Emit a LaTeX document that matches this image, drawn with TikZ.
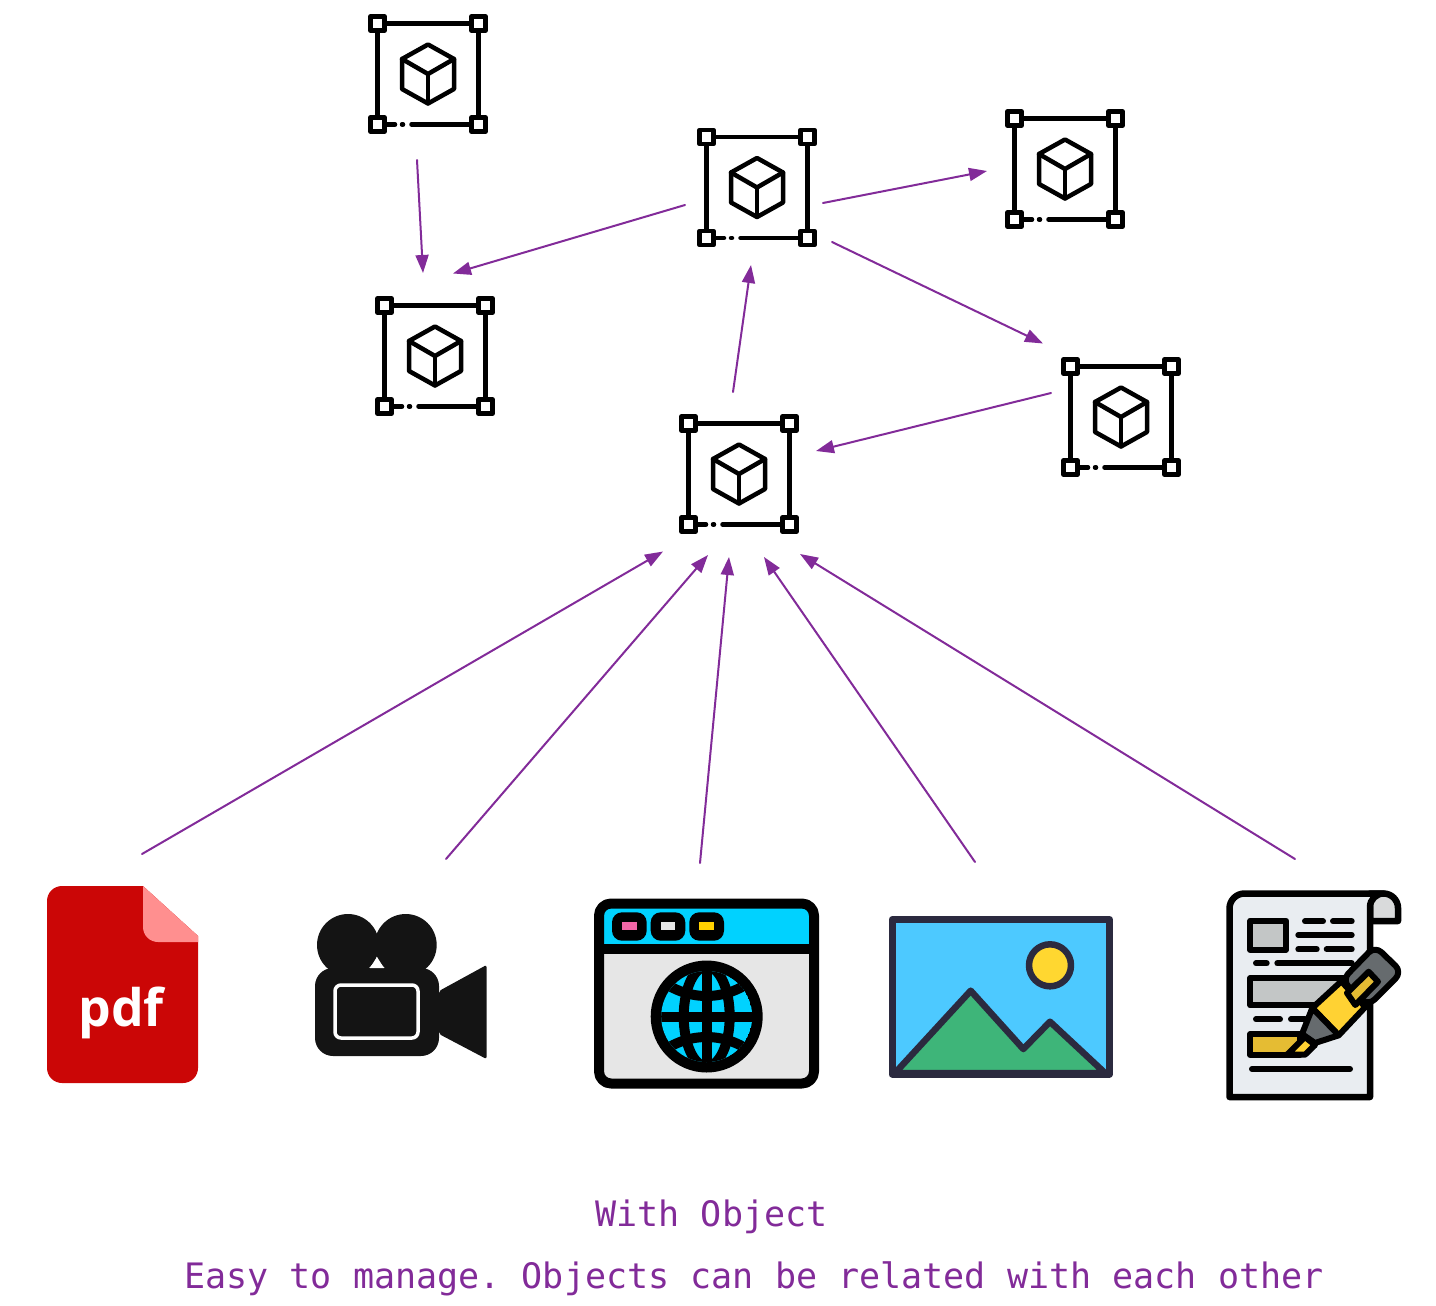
\documentclass[tikz,border=0pt]{standalone}
\usepackage{xcolor}
\usepackage{fontspec}
\setmainfont{Open Sans}
\setmonofont{DejaVu Sans Mono}
\usetikzlibrary{arrows.meta}

\definecolor{linkpurple}{HTML}{822B99}
\definecolor{pdfred}{HTML}{CB0606}
\definecolor{pdfpink}{HTML}{FF8F8F}
\definecolor{camblack}{HTML}{141414}
\definecolor{webcyan}{HTML}{00D2FF}
\definecolor{webgrey}{HTML}{E6E6E6}
\definecolor{webpink}{HTML}{F266A6}
\definecolor{webyellow}{HTML}{FFD000}
\definecolor{picsky}{HTML}{4DC9FF}
\definecolor{picink}{HTML}{2B2A3F}
\definecolor{picsun}{HTML}{FFD730}
\definecolor{picgreen}{HTML}{3EB579}
\definecolor{docpaper}{HTML}{E9EDF1}
\definecolor{docgrey}{HTML}{C3C6C6}
\definecolor{docfold}{HTML}{D9DADB}
\definecolor{docgold}{HTML}{E5BC33}
\definecolor{penyellow}{HTML}{FFD233}
\definecolor{pengrey}{HTML}{666B6E}

\tikzset{
  objicon/.pic={
    %% Frame with its square handles; the bottom edge is broken.
    \draw[line width=0.045cm] (-43,-50.5) -- (43,-50.5);
    \draw[line width=0.045cm] (-50.5,-43) -- (-50.5,43);
    \draw[line width=0.045cm] (50.5,-43) -- (50.5,43);
    \draw[line width=0.045cm] (-43,50.5) -- (-33,50.5);
    \draw[line width=0.045cm] (-26,50.5) -- (-25,50.5);
    \draw[line width=0.045cm] (-16.5,50.5) -- (43,50.5);
    \foreach \p in {(-50.5,-50.5),(50.5,-50.5),(-50.5,50.5),(50.5,50.5)}
      \draw[line width=0.045cm] \p ++(-7,-7) rectangle ++(14,14);
    %% Cube.
    \draw[line width=0.045cm]
         (0,-29.5) -- (26,-15) -- (26,15) -- (0,29.5)
      -- (-26,15) -- (-26,-15) -- cycle;
    \draw[line width=0.045cm] (-26,-15) -- (0,0) -- (26,-15);
    \draw[line width=0.045cm] (0,0) -- (0,29.5);
  },
}

\begin{document}
\begin{tikzpicture}[
      x=0.01cm,
      y=-0.01cm,
      line cap=round,
      line join=round,
      link/.style={linkpurple, line width=0.02cm,
        -{Triangle[length=0.18cm,width=0.13cm]}},
      caption/.style={linkpurple, font=\ttfamily\fontsize{9.965pt}{12pt}\selectfont,
        anchor=base, inner sep=0pt},
      docline/.style={line width=0.06cm},
    ]
    \useasboundingbox (0,0) rectangle (1436,1306);

    %% Objects.
    \pic at (428,74)      {objicon};
    \pic at (757,187.5)   {objicon};
    \pic at (1065,169)    {objicon};
    \pic at (435,356)     {objicon};
    \pic at (739,474)     {objicon};
    \pic at (1121,417)    {objicon};

    %% Free ends of the links between the objects.
    \coordinate (topout)    at (417,160);
    \coordinate (leftin)    at (423,273);
    \coordinate (midoutl)   at (685,205);
    \coordinate (leftinr)   at (453,273.5);
    \coordinate (midoutr)   at (823,203);
    \coordinate (rightin)   at (987,171);
    \coordinate (midoutd)   at (832,242);
    \coordinate (lowrightin) at (1043,343.5);
    \coordinate (coreoutu)  at (733,392);
    \coordinate (midin)     at (751,265);
    \coordinate (lowrightout) at (1051,393);
    \coordinate (corein)    at (816,451);
    \draw[link] (topout) -- (leftin);
    \draw[link] (midoutl) -- (leftinr);
    \draw[link] (midoutr) -- (rightin);
    \draw[link] (midoutd) -- (lowrightin);
    \draw[link] (coreoutu) -- (midin);
    \draw[link] (lowrightout) -- (corein);

    %% Free ends of the links from the files up to the object.
    \coordinate (pdfout)   at (142,854);
    \coordinate (pdfin)    at (663,551.5);
    \coordinate (camout)   at (446,859);
    \coordinate (camin)    at (708,555);
    \coordinate (webout)   at (700,863);
    \coordinate (webin)    at (729,557);
    \coordinate (picout)   at (975,862);
    \coordinate (picin)    at (764,557);
    \coordinate (docout)   at (1295,859);
    \coordinate (docin)    at (800,554);
    \draw[link] (pdfout) -- (pdfin);
    \draw[link] (camout) -- (camin);
    \draw[link] (webout) -- (webin);
    \draw[link] (picout) -- (picin);
    \draw[link] (docout) -- (docin);

    %% PDF file.
    \fill[pdfred]
         (62,886) -- (143,886) -- (198,936) -- (198,1068)
      arc[start angle=0, end angle=90, radius=15] -- (62,1083)
      arc[start angle=90, end angle=180, radius=15] -- (47,901)
      arc[start angle=180, end angle=270, radius=15] -- cycle;
    \fill[pdfpink]
         (143,886) -- (198,936) -- (198,942) -- (158,942)
      arc[start angle=90, end angle=180, radius=15] -- cycle;
    \node[white, inner sep=0pt, anchor=base, font=\bfseries\fontsize{14.7pt}{18pt}\selectfont]
      (pdflabel) at (121,1026.5) {pdf};

    %% Camera.
    \fill[camblack] (348,945) circle (31);
    \fill[camblack] (405.7,945) circle (31);
    \fill[camblack, rounded corners=0.18cm] (315,968) rectangle (439,1056);
    \fill[camblack, rounded corners=0.02cm]
         (439,991) -- (486.5,965) -- (486.5,1059) -- (439,1034) -- cycle;
    \fill[white] (377,957) -- (370,968) -- (384,968) -- cycle;
    \draw[white, line width=0.035cm, rounded corners=0.06cm]
      (335,985) rectangle (418,1038);

    %% Browser window.
    \fill[webgrey, rounded corners=0.12cm] (599,903) rectangle (813.7,1083);
    \fill[webcyan, rounded corners=0.08cm] (599,903) rectangle (813.7,949);
    \draw[black, line width=0.1cm, rounded corners=0.12cm] (599,903.5) rectangle (814,1083.5);
    \draw[black, line width=0.1cm] (599,949.3) -- (813.7,949.3);
    \fill[black, rounded corners=0.1cm] (612,912.3) rectangle (646.7,940.7);
    \fill[black, rounded corners=0.1cm] (650.7,912.3) rectangle (685.3,940.7);
    \fill[black, rounded corners=0.1cm] (689.3,912.3) rectangle (724,940.7);
    \fill[webpink] (622.3,922.3) rectangle (636.7,930);
    \fill[webgrey] (660.5,922.3) rectangle (675,930);
    \fill[webyellow] (699,922.3) rectangle (714,930);
    \fill[black] (706.7,1016.5) circle (56);
    \begin{scope}
      \clip (706.7,1016.5) circle (45.5);
      \fill[webcyan] (706.7,1016.5) circle (45.5);
      \draw[black, line width=0.1cm] (706.7,960) -- (706.7,1072);
      \draw[black, line width=0.1cm] (650,1016.5) -- (763,1016.5);
      \draw[black, line width=0.1cm] (706.7,1016.5) ellipse (23 and 50);
      \draw[black, line width=0.1cm]
        (656,976.5) .. controls (686,1002.5) and (727,1002.5) .. (757,976.5);
      \draw[black, line width=0.1cm]
        (656,1056.5) .. controls (686,1030.5) and (727,1030.5) .. (757,1056.5);
    \end{scope}

    %% Picture.
    \fill[picsky] (892,919.5) rectangle (1109.5,1074);
    \filldraw[fill=picgreen, draw=picink, line width=0.065cm]
         (895,1073) -- (970.7,990.7) -- (1023.3,1049) -- (1050,1021.7) -- (1105,1073) -- cycle;
    \draw[picink, line width=0.07cm] (892,919.5) rectangle (1109.5,1074);
    \filldraw[fill=picsun, draw=picink, line width=0.065cm] (1050,965.3) circle (21);

    %% Document.
    \filldraw[fill=docfold, draw=black, line width=0.065cm]
         (1370,921) -- (1398,921) -- (1398,908)
      arc[start angle=0, end angle=-90, radius=14.5] -- (1370,893.5) -- cycle;
    \filldraw[fill=docpaper, draw=black, line width=0.065cm]
         (1244.5,893.5) -- (1383.5,893.5)
      arc[start angle=270, end angle=180, radius=13.5] -- (1370,1097) -- (1229.5,1097)
      -- (1229.5,908.5) arc[start angle=180, end angle=270, radius=15] -- cycle;
    \filldraw[fill=docgrey, draw=black, docline] (1250.3,920.7) rectangle (1286,949.7);
    \draw[docline] (1305,921.3) -- (1323,921.3);
    \draw[docline] (1333,921.3) -- (1351.7,921.3);
    \draw[docline] (1298.3,935) -- (1351.7,935);
    \draw[docline] (1298.3,949.3) -- (1316.7,949.3);
    \draw[docline] (1326.7,949.3) -- (1351.7,949.3);
    \draw[docline] (1256,963.3) -- (1266.7,963.3);
    \draw[docline] (1277.3,963.3) -- (1351.7,963.3);
    \filldraw[fill=docgrey, draw=black, docline] (1250.3,978) rectangle (1355,1005.3);
    \draw[docline] (1256,1019.3) -- (1280,1019.3);
    \draw[docline] (1291,1019.3) -- (1305,1019.3);
    \filldraw[fill=docgold, draw=black, docline]
      (1250.3,1034) -- (1300,1034) -- (1300,1054.7) -- (1250.3,1054.7) -- cycle;
    \draw[docline] (1252,1069) -- (1350,1069);

    %% Marker pen on the document.
    \filldraw[fill=pengrey, draw=black, docline, rounded corners=0.09cm]
         (1342,980) -- (1375,946) -- (1402,972) -- (1368,1006) -- cycle;
    \filldraw[fill=penyellow, draw=black, docline]
         (1341.3,981.3) -- (1365.3,1007) -- (1338.7,1035.3) -- (1312.3,1008) -- cycle;
    \filldraw[fill=docgold, draw=black, docline]
         (1347,993) -- (1368.7,971.7) -- (1378,981.7) -- (1355.3,1005) -- cycle;
    \filldraw[fill=penyellow, draw=black, docline]
         (1305,1037) -- (1315,1045) -- (1305,1054.7) -- (1287,1054.7) -- cycle;
    \filldraw[fill=pengrey, draw=black, docline]
         (1312.3,1008) -- (1338.7,1035.3) -- (1315,1043) -- (1302,1034) -- cycle;

    %% Captions.
    \node[caption] (captionhead) at (711.5,1226) {With Object};
    \node[caption] (captionbody) at (754,1288) {Easy to manage. Objects can be related with each other};
  \end{tikzpicture}
\end{document}
